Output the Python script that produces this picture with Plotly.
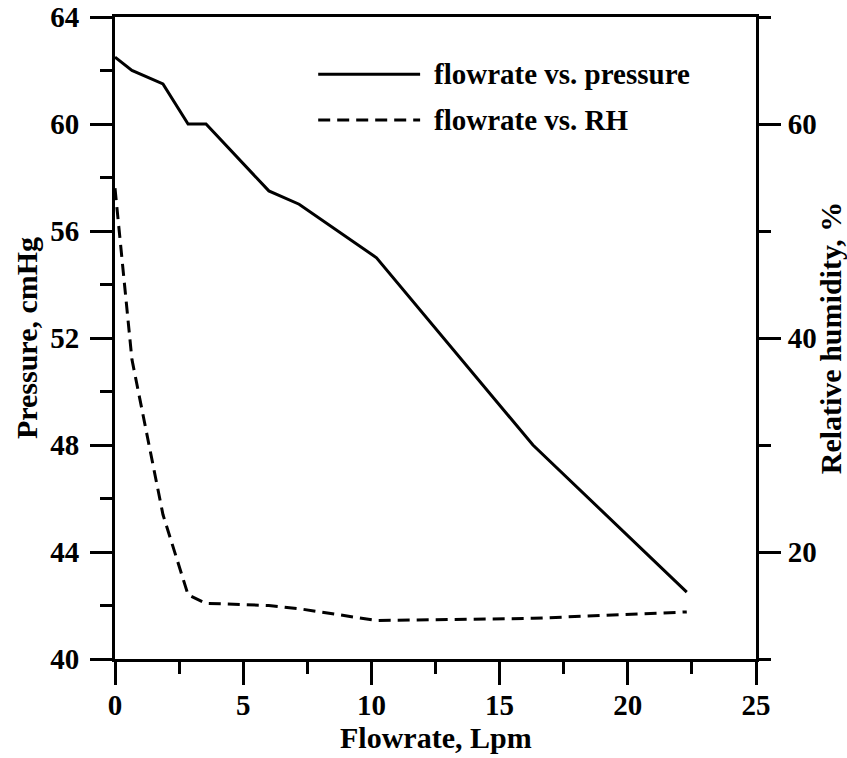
import plotly.graph_objects as go

# Data
flowrate = [0, 0.66, 1.87, 2.85, 3.55, 6.0, 7.18, 10.2, 16.3, 22.3]
pressure = [62.5, 62.0, 61.5, 60.0, 60.0, 57.5, 57.0, 55.0, 48.0, 42.5]
rh = [54.0, 38.0, 23.5, 16.0, 15.2, 15.0, 14.7, 13.6, 13.8, 14.4]

series_names = ["flowrate vs. pressure", "flowrate vs. RH"]
x_title = "Flowrate, Lpm"
y_title = "Pressure, cmHg"
y2_title = "Relative humidity, %"

FONT = "Liberation Serif"
TICK_FS = 29
TITLE_FS = 30
dash_style = "12px,7px"

fig = go.Figure()
fig.add_trace(go.Scatter(x=flowrate, y=pressure, mode="lines", name=series_names[0],
                         line=dict(color="black", width=3), yaxis="y", showlegend=False))
fig.add_trace(go.Scatter(x=flowrate, y=rh, mode="lines", name=series_names[1],
                         line=dict(color="black", width=3, dash=dash_style), yaxis="y2",
                         showlegend=False))

tickfont = dict(family=FONT, size=TICK_FS, color="black", weight="bold")
titlefont = dict(family=FONT, size=TITLE_FS, color="black", weight="bold")

common_tick = dict(ticks="outside", tickwidth=3, tickcolor="black",
                   showgrid=False, zeroline=False, showline=True, linewidth=3,
                   linecolor="black", tickfont=tickfont)

fig.update_layout(
    width=847, height=758,
    margin=dict(l=115, r=91, t=17, b=99, autoexpand=False),
    paper_bgcolor="white", plot_bgcolor="white",
    font=dict(family=FONT, size=TICK_FS, color="black"),
    xaxis=dict(range=[0, 25], dtick=5, tick0=0, mirror=True, ticklen=23,
               minor=dict(dtick=2.5, tick0=0, ticks="outside", ticklen=12, tickwidth=3,
                          tickcolor="black", showgrid=False),
               ticklabelstandoff=-5,
               **common_tick),
    yaxis=dict(range=[40, 64], dtick=4, tick0=40, ticklen=22,
               minor=dict(dtick=2, tick0=40, ticks="outside", ticklen=12, tickwidth=3,
                          tickcolor="black", showgrid=False),
               ticklabelstandoff=5,
               title=dict(text=y_title, font=titlefont, standoff=4),
               **common_tick),
    yaxis2=dict(range=[10, 70], dtick=20, tick0=0, overlaying="y", side="right",
                ticklen=22,
                minor=dict(dtick=10, tick0=0, ticks="outside", ticklen=12, tickwidth=3,
                           tickcolor="black", showgrid=False),
                ticklabelstandoff=1,
                title=dict(text=y2_title, font=titlefont, standoff=2),
                **common_tick),
)

# X-axis title placed as paper annotation for exact vertical position
fig.add_annotation(text=x_title, xref="paper", yref="paper", x=0.5, y=-0.1215,
                   xanchor="center", yanchor="middle", showarrow=False, font=titlefont)

# Manual legend with long line samples
leg_x0, leg_x1, leg_tx = 0.317, 0.476, 0.494
leg_y = [0.911, 0.8396]
fig.add_shape(type="line", xref="paper", yref="paper", x0=leg_x0, x1=leg_x1,
              y0=leg_y[0], y1=leg_y[0], line=dict(color="black", width=3))
fig.add_shape(type="line", xref="paper", yref="paper", x0=leg_x0, x1=leg_x1,
              y0=leg_y[1], y1=leg_y[1], line=dict(color="black", width=3, dash=dash_style))
for name, yy in zip(series_names, leg_y):
    fig.add_annotation(text=name, xref="paper", yref="paper", x=leg_tx, y=yy,
                       xanchor="left", yanchor="middle", showarrow=False,
                       font=tickfont)

fig.write_html("out.html", config={"displayModeBar": False},
               post_script="document.body.style.margin='0';")
